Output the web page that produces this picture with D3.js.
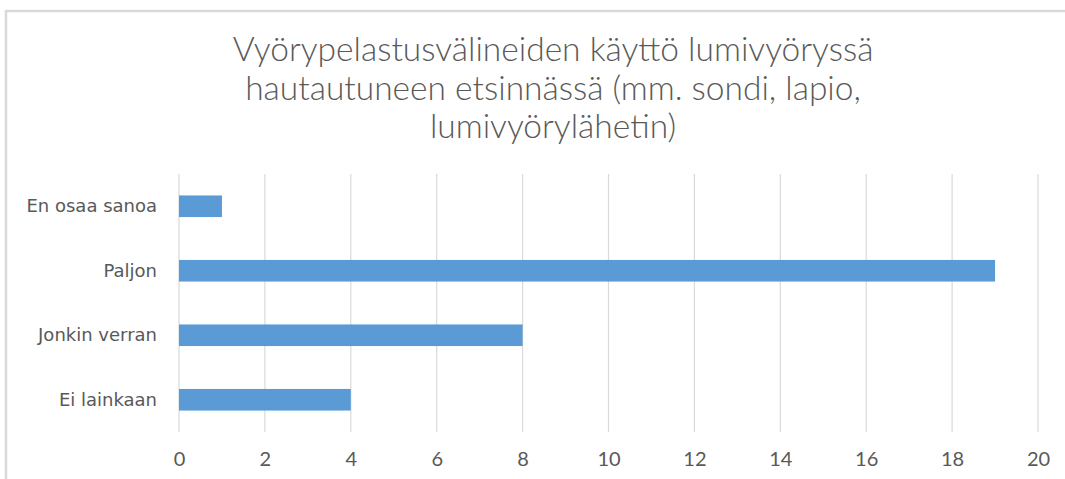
<!DOCTYPE html>
<html>
<head>
<meta charset="utf-8">
<script src="https://cdn.jsdelivr.net/npm/d3@7"></script>
<style>
  body { margin: 0; background: #fff; }
  svg { display: block; }
</style>
</head>
<body>
<svg id="chart"></svg>
<script>
const titleLines = [
  'Vyörypelastusvälineiden käyttö lumivyöryssä',
  'hautautuneen etsinnässä (mm. sondi, lapio,',
  'lumivyörylähetin)'
];
const categories = ['En osaa sanoa', 'Paljon', 'Jonkin verran', 'Ei lainkaan'];
const values = [1, 19, 8, 4];
const xTicks = [0, 2, 4, 6, 8, 10, 12, 14, 16, 18, 20];

const width = 1065, height = 479;
const margin = { top: 174, right: 27, bottom: 47, left: 179 };
const textColor = '#595959';

const svg = d3.select('#chart')
  .attr('width', width)
  .attr('height', height);

// chart frame (only top and left edges visible in the crop)
svg.append('path')
  .attr('d', `M6,${height} V11 H${width}`)
  .attr('fill', 'none')
  .attr('stroke', '#d9d9d9')
  .attr('stroke-width', 2.5);

svg.append('g')
  .selectAll('text')
  .data(titleLines)
  .join('text')
  .attr('x', 553)
  .attr('y', (d, i) => 61 + i * 38.5)
  .attr('text-anchor', 'middle')
  .attr('font-family', 'Lato, "Open Sans", sans-serif')
  .attr('font-weight', 300)
  .attr('font-size', 33.5)
  .attr('fill', textColor)
  .text(d => d);

const x = d3.scaleLinear()
  .domain([0, 20])
  .range([margin.left, width - margin.right]);

const y = d3.scaleBand()
  .domain(categories)
  .range([margin.top, height - margin.bottom])
  .paddingInner(0.665)
  .paddingOuter(0.3325);

// gridlines
svg.append('g')
  .selectAll('line')
  .data(xTicks)
  .join('line')
  .attr('x1', d => x(d))
  .attr('x2', d => x(d))
  .attr('y1', margin.top)
  .attr('y2', height - margin.bottom)
  .attr('stroke', '#d9d9d9')
  .attr('stroke-width', 1.2);

svg.append('g')
  .selectAll('rect')
  .data(categories)
  .join('rect')
  .attr('x', x(0))
  .attr('y', d => y(d))
  .attr('width', (d, i) => x(values[i]) - x(0))
  .attr('height', y.bandwidth())
  .attr('fill', '#5b9bd5');

const xAxis = svg.append('g')
  .attr('transform', `translate(0,${height - margin.bottom})`)
  .call(d3.axisBottom(x).tickValues(xTicks).tickSize(0).tickPadding(20));
xAxis.select('.domain').remove();
xAxis.selectAll('text')
  .attr('font-family', 'Lato, sans-serif')
  .attr('font-size', 20)
  .attr('fill', textColor);

const yAxis = svg.append('g')
  .attr('transform', `translate(${margin.left},0)`)
  .call(d3.axisLeft(y).tickSize(0).tickPadding(22));
yAxis.select('.domain').remove();
yAxis.selectAll('text')
  .attr('font-family', '"DejaVu Sans", sans-serif')
  .attr('font-size', 18)
  .attr('fill', textColor);
</script>
</body>
</html>
